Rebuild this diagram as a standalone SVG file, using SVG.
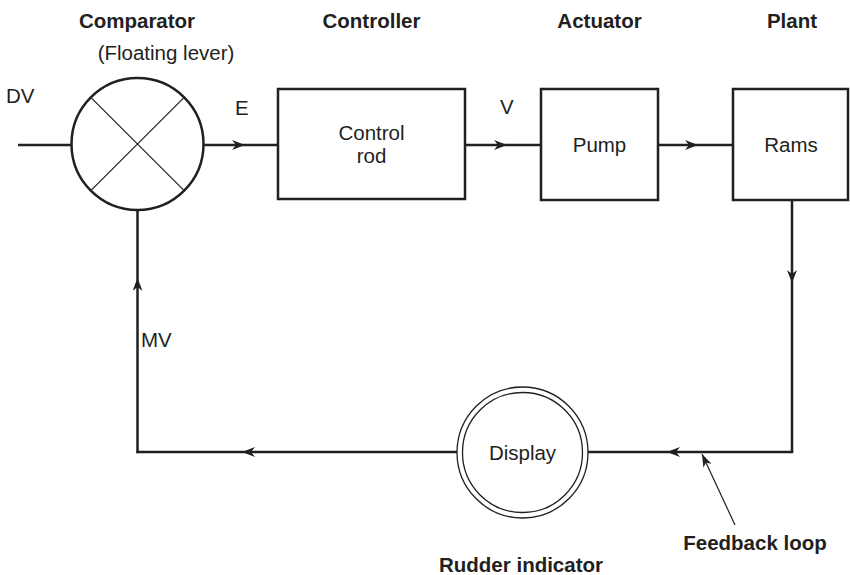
<svg xmlns="http://www.w3.org/2000/svg" width="850" height="575" viewBox="0 0 850 575">
<defs>
<style>
.t{font-family:"Liberation Sans",Arial,sans-serif;font-size:20.5px;fill:#231f20}
.b{font-weight:bold}
.m{text-anchor:middle}
.box{fill:#fff;stroke:#231f20;stroke-width:2.5}
.thin{fill:none;stroke:#231f20;stroke-width:1.2}
.c{fill:none;stroke:#231f20;stroke-width:2.5}
</style>
<marker id="ah" markerUnits="userSpaceOnUse" markerWidth="14" markerHeight="10" refX="13" refY="5" orient="auto">
<path d="M0,0 L13,5 L0,10 L4,5 z" fill="#231f20"/>
</marker>
<marker id="ah2" markerUnits="userSpaceOnUse" markerWidth="14" markerHeight="9" refX="13" refY="4.5" orient="auto">
<path d="M0,0 L13,4.5 L0,9 L3.5,4.5 z" fill="#231f20"/>
</marker>
</defs>
<rect width="850" height="575" fill="#fff"/>

<g id="connectors">
<path class="c" d="M18,145 H72"/>
<path class="c" d="M203,145 H245 H278" marker-mid="url(#ah)"/>
<path class="c" d="M465,145 H507 H541" marker-mid="url(#ah)"/>
<path class="c" d="M658,145 H698 H733" marker-mid="url(#ah)"/>
<path class="c" d="M792,200 V283 V452" marker-mid="url(#ah)"/>
<path class="c" d="M793.25,452 H667 H588" marker-mid="url(#ah)"/>
<path class="c" d="M457,452 H242 H136.5" marker-mid="url(#ah)"/>
<path class="c" d="M137.5,453.25 V278 V210" marker-mid="url(#ah)"/>
<path class="thin" d="M735,525 L702,454" marker-end="url(#ah2)"/>
</g>

<g id="comparator">
<circle cx="137.5" cy="144" r="66" fill="#fff" stroke="#231f20" stroke-width="2.5"/>
<path class="thin" d="M90.8,97.3 L184.2,190.7 M184.2,97.3 L90.8,190.7"/>
<text class="t b m" x="137" y="28">Comparator</text>
<text class="t m" x="166" y="60">(Floating lever)</text>
</g>

<g id="controller">
<rect class="box" x="278" y="89" width="187" height="110"/>
<text class="t m" x="371.5" y="140">Control</text>
<text class="t m" x="371.5" y="163">rod</text>
<text class="t b m" x="371.5" y="28">Controller</text>
</g>

<g id="actuator">
<rect class="box" x="541" y="89" width="117" height="111"/>
<text class="t m" x="599.5" y="152">Pump</text>
<text class="t b m" x="599.5" y="28">Actuator</text>
</g>

<g id="plant">
<rect class="box" x="733" y="89" width="115" height="111"/>
<text class="t m" x="791" y="152">Rams</text>
<text class="t b m" x="792" y="28">Plant</text>
</g>

<g id="display">
<circle cx="522.5" cy="452.5" r="65.5" fill="#fff" stroke="#231f20" stroke-width="1.3"/>
<circle cx="522.5" cy="452.5" r="60" fill="none" stroke="#231f20" stroke-width="1.3"/>
<text class="t m" x="522.5" y="460">Display</text>
<text class="t b m" x="521" y="572">Rudder indicator</text>
</g>

<g id="labels">
<text class="t" x="6" y="103">DV</text>
<text class="t" x="235" y="115">E</text>
<text class="t" x="500" y="114">V</text>
<text class="t" x="141" y="347">MV</text>
<text class="t b m" x="755" y="550">Feedback loop</text>
</g>
</svg>
